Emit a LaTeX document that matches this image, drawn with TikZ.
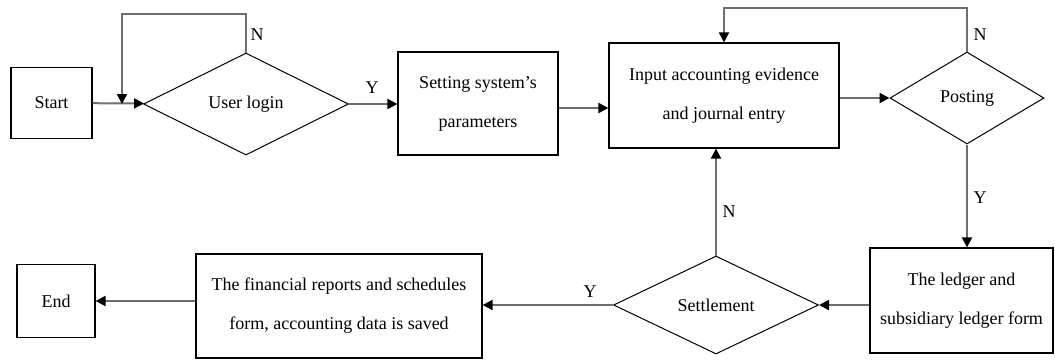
\documentclass[tikz,border=0pt]{standalone}
\usepackage{fontspec}
\setmainfont{Liberation Serif}
\usetikzlibrary{shapes.geometric, arrows.meta, positioning, calc}
\definecolor{flowgray}{RGB}{110, 110, 110}

\begin{document}
\begin{tikzpicture}[
		x=1pt, y=-1pt,
		% global settings
		font=\fontsize{18}{39}\selectfont,
		% styles
		box/.style={rectangle, draw=black, line width=1.2pt, align=center, inner sep=0pt},
		decision/.style={diamond, draw=black, line width=1pt, align=center, inner sep=0pt},
		arrow/.style={draw=flowgray, line width=2pt, -{Triangle[length=10pt, width=10pt, black]}},
		flag/.style={inner sep=1pt}
		]
		
		\useasboundingbox (0,0) rectangle (1055,360);
		
		% ==========================================
		% Top row
		% ==========================================
		
		% 1. start
		\node[box, minimum width=81pt, minimum height=71pt] (start) at (51.5,103) {Start};
		
		% 2. login check
		\node[decision, minimum width=205pt, minimum height=102pt] (login) at (246,104) {User login};
		
		% 3. system parameters
		\node[box, minimum width=160pt, minimum height=103pt] (setting) at (478,103.5) {Setting system’s\\parameters};
		
		% 4. evidence input
		\node[box, minimum width=230pt, minimum height=105pt] (input) at (724,95.5) {Input accounting evidence\\and journal entry};
		
		% 5. posting check
		\node[decision, minimum width=154pt, minimum height=92pt] (posting) at (967,98) {Posting};
		
		% ==========================================
		% Bottom row
		% ==========================================
		
		\node[box, minimum width=183pt, minimum height=105pt] (ledger) at (961.5,300.5) {The ledger and\\subsidiary ledger form};
		\node[decision, minimum width=205pt, minimum height=98pt] (settle) at (716,305) {Settlement};
		\node[box, minimum width=286pt, minimum height=104pt] (report) at (339,306) {The financial reports and schedules\\form, accounting data is saved};
		\node[box, minimum width=78pt, minimum height=73pt] (end) at (56,301) {End};
		
		% ==========================================
		% Connectors
		% ==========================================
		\coordinate (join) at (122,104);
		
		\draw[arrow] (start) -- (login);
		\draw[arrow] (login.north) -- ++(0,-39) -| (join);
		\draw[arrow] (login.east) -- (login.east -| setting.west);
		\draw[arrow] (setting.east |- 0,108) -- (input.west |- 0,108);
		\draw[arrow] (input.east |- posting.west) -- (posting.west);
		\draw[arrow] (posting.north) -- ++(0,-44) -| (input.north);
		\draw[arrow] (posting.south) -- (posting.south |- ledger.north);
		\draw[arrow] (ledger.west |- settle.east) -- (settle.east);
		\draw[arrow] (settle.north) -- (settle.north |- input.south);
		\draw[arrow] (settle.west) -- (report.east |- settle.west);
		\draw[arrow] (report.west |- end.east) -- (end.east);
		
		% Y / N marks
		\node[flag] (n_login) at (257,35) {N};
		\node[flag] (y_login) at (372,88) {Y};
		\node[flag] (n_post) at (980,35) {N};
		\node[flag] (y_post) at (980,198) {Y};
		\node[flag] (n_settle) at (729,212) {N};
		\node[flag] (y_settle) at (590,292) {Y};
		
	\end{tikzpicture}
\end{document}
